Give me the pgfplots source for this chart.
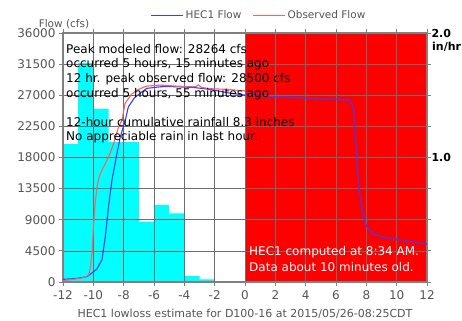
\documentclass[border=0pt]{standalone}
\usepackage{pgfplots}
\pgfplotsset{compat=1.18}
\usepackage{fontspec}
\setmainfont{DejaVu Sans}
\definecolor{hecblue}{RGB}{60,60,255}
\definecolor{obsred}{RGB}{255,95,95}
\definecolor{raincyan}{RGB}{0,255,255}
\definecolor{bgred}{RGB}{255,0,0}
\definecolor{tickgray}{RGB}{85,85,85}
\definecolor{gridgray}{RGB}{110,110,110}
\begin{document}
\begin{tikzpicture}
\useasboundingbox (0,0) rectangle (462bp,321bp);
% rain axis (right), background layers
\begin{axis}[
  scale only axis, width=364bp, height=249bp,
  at={(63bp,39bp)}, anchor=south west,
  xmin=-12, xmax=12, ymin=0, ymax=2,
  hide x axis,
  axis y line*=right,
  y axis line style={draw=none},
  major tick length=0pt,
  ytick={1,2},
  yticklabels={\textbf{1.0},\textbf{2.0}},
  yticklabel style={font=\fontsize{11bp}{13bp}\selectfont, black, anchor=west, xshift=1bp},
]
\addplot[fill=bgred, draw=none] coordinates {(0,2)(12,2)} \closedcycle;
\addplot[fill=raincyan, draw=none, const plot] coordinates {
(-12,1.108)(-11,1.759)(-10,1.390)(-9,1.124)(-8,1.124)(-7,0.484)(-6,0.618)(-5,0.552)(-4,0.048)(-3,0.022)(-2,0.022)} \closedcycle;
\end{axis}
% flow axis
\begin{axis}[
  scale only axis, width=364bp, height=249bp,
  at={(63bp,39bp)}, anchor=south west,
  xmin=-12, xmax=12, ymin=0, ymax=36000,
  scaled y ticks=false, scaled x ticks=false,
  xtick={-12,-10,...,12},
  xticklabels={-12,-10,-8,-6,-4,-2,0,2,4,6,8,10,12},
  ytick={0,4500,9000,13500,18000,22500,27000,31500,36000},
  yticklabels={0,4500,9000,13500,18000,22500,27000,31500,36000},
  grid=major,
  grid style={gridgray, line width=0.7bp},
  axis line style={gray, line width=1.3bp},
  tick align=outside,
  major tick length=4bp,
  tick style={gray, line width=0.8bp},
  tick label style={font=\fontsize{12bp}{14bp}\selectfont, tickgray},
  every x tick label/.append style={yshift=-1bp},
  legend columns=2,
  legend style={draw=none, fill=none, at={(0.24,1.072)}, anchor=west,
    inner sep=0pt, font=\fontsize{10.5bp}{12bp}\selectfont, text=tickgray,
    /tikz/every even column/.append style={column sep=9bp}},
  legend image code/.code={\draw[#1, line width=1.1bp] (0bp,0bp) -- (32bp,0bp);},
]
\addplot[hecblue, line width=1.1bp] coordinates {
(-12,390)(-11.5,450)(-11,550)(-10.42,770)(-10.1,1300)(-9.76,1900)(-9.43,3200)(-9.21,6550)(-9.0,10880)(-8.77,14740)(-8.44,18600)(-8.22,21000)(-7.89,23400)(-7.69,25330)(-7.3,26600)(-6.92,27270)(-6.48,28000)(-6.26,28050)(-5.6,28220)(-5.16,28264)(-4.5,28220)(-3.41,28130)(-2.31,27850)(-1,27300)(0,27020)(1.5,26850)(2.97,26690)(4.3,26550)(5.6,26450)(6.92,26300)(7.14,25330)(7.25,21970)(7.36,18600)(7.47,14740)(7.58,12500)(7.69,10880)(7.8,9600)(8.02,7990)(8.46,6940)(9,6550)(10,6170)(11,5800)(12,5490)};
\addlegendentry{HEC1 Flow}
\addplot[obsred, line width=1.1bp] coordinates {
(-12,200)(-11.5,350)(-10.86,530)(-10.5,750)(-10.31,1010)(-10.2,2000)(-10.09,4150)(-9.98,8480)(-9.87,11500)(-9.76,13770)(-9.6,15300)(-9.43,16180)(-9.1,17630)(-8.88,18700)(-8.66,20040)(-8.33,22440)(-8.11,23400)(-7.91,25820)(-7.5,27100)(-7.14,27750)(-6.48,28320)(-5.6,28470)(-4.5,28320)(-3.41,28220)(-3.2,28300)(-3.08,28500)(-2.86,28130)(-2.3,27950)(-1.21,27850)(-0.11,27650)(0,27600)};
\addlegendentry{Observed Flow}
\end{axis}
% annotations
\begin{scope}[every node/.style={anchor=base west, inner sep=0pt, font=\fontsize{12bp}{14bp}\selectfont}]
\node at (66bp,267.4bp) {Peak modeled flow: 28264 cfs};
\node at (66bp,253bp) {occurred 5 hours, 15 minutes ago};
\node at (66bp,238bp) {12 hr. peak observed flow: 28500 cfs};
\node at (66bp,223.5bp) {occurred 5 hours, 55 minutes ago};
\node at (66bp,194.5bp) {12-hour cumulative rainfall 8.3 inches};
\node at (66bp,180bp) {No appreciable rain in last hour.};
\node[text=white] at (249bp,65bp) {HEC1 computed at 8:34 AM.};
\node[text=white] at (249bp,49bp) {Data about 10 minutes old.};
\end{scope}
\node[anchor=base, inner sep=0pt, text=tickgray, font=\fontsize{11bp}{13bp}\selectfont] at (245bp,4bp) {HEC1 lowloss estimate for D100-16 at 2015/05/26-08:25CDT};
\node[anchor=center, inner sep=0pt, text=tickgray, font=\fontsize{10.5bp}{12bp}\selectfont] at (64bp,297bp) {Flow (cfs)};
\node[anchor=west, inner sep=0pt, font=\bfseries\fontsize{11bp}{13bp}\selectfont] at (432bp,274bp) {in/hr};
\end{tikzpicture}
\end{document}
